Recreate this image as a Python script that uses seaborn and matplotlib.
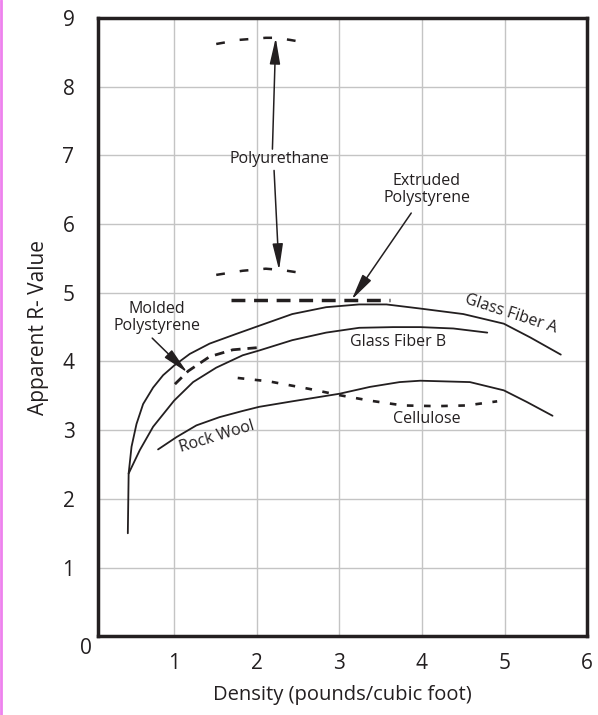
import pandas as pd
import numpy as np
import matplotlib.pyplot as plt
import seaborn as sns
from matplotlib.lines import Line2D

# values
fiber_a_x = [0.44, 0.45, 0.485, 0.545, 0.625, 0.746, 0.867, 1.0, 1.19, 1.43, 1.75, 2.03,
             2.43, 2.84, 3.24, 3.57, 3.98, 4.50, 4.99, 5.31, 5.68]
fiber_a_y = [1.50, 2.37, 2.76, 3.09, 3.38, 3.62, 3.80, 3.94, 4.11, 4.26, 4.40, 4.52,
             4.69, 4.79, 4.83, 4.83, 4.77, 4.69, 4.55, 4.35, 4.10]

fiber_b_x = [0.45, 0.585, 0.746, 1.0, 1.23, 1.51, 1.83, 2.03, 2.43, 2.84, 3.24, 3.65, 3.98, 4.38, 4.79]
fiber_b_y = [2.37, 2.71, 3.05, 3.43, 3.70, 3.91, 4.09, 4.16, 4.31, 4.42, 4.49, 4.50, 4.50, 4.48, 4.42]

rock_x = [0.806, 1.03, 1.27, 1.55, 1.83, 2.03, 2.43, 3.0, 3.37, 3.73, 3.98, 4.58, 4.99, 5.27, 5.58]
rock_y = [2.72, 2.90, 3.07, 3.19, 3.28, 3.34, 3.42, 3.53, 3.63, 3.70, 3.72, 3.70, 3.58, 3.41, 3.21]

cell_x = [1.77, 2.15, 2.64, 3.0, 3.37, 3.77, 4.18, 4.54, 4.91]
cell_y = [3.76, 3.71, 3.60, 3.51, 3.43, 3.36, 3.35, 3.36, 3.42]

molded_x = [1.01, 1.17, 1.43, 1.71, 2.0]
molded_y = [3.67, 3.86, 4.07, 4.17, 4.20]

extruded_x = [1.69, 3.61]
extruded_y = [4.90, 4.90]

pu_high_x = [1.51, 1.79, 2.11, 2.23, 2.40, 2.64]
pu_high_y = [8.62, 8.68, 8.71, 8.71, 8.68, 8.63]
pu_low_x = [1.51, 1.83, 2.11, 2.31, 2.64]
pu_low_y = [5.26, 5.32, 5.35, 5.33, 5.27]

y_ticks = [1, 2, 3, 4, 5, 6, 7, 8, 9]
x_ticks = [1, 2, 3, 4, 5, 6]

sns.set_style("whitegrid", {"grid.color": "#c4c4c4", "axes.edgecolor": "#231f20"})
plt.rcParams['font.family'] = ['Open Sans', 'DejaVu Sans']

fig = plt.figure(figsize=(5.98, 7.15), dpi=100)
ax = fig.add_axes([0.164, 0.110, 0.818, 0.865])

ink = "#231f20"
solid = dict(color=ink, lw=1.3)

def draw(xs, ys, **kw):
    df = pd.DataFrame({"x": xs, "y": ys})
    sns.lineplot(data=df, x="x", y="y", sort=False, ax=ax, **kw)

draw(fiber_a_x, fiber_a_y, **solid)
draw(fiber_b_x, fiber_b_y, **solid)
draw(rock_x, rock_y, **solid)
draw(cell_x, cell_y, color=ink, lw=1.9, linestyle=(0, (2.5, 4)))
draw(molded_x, molded_y, color=ink, lw=2.0, linestyle=(0, (3.5, 2.5)))
draw(extruded_x, extruded_y, color=ink, lw=2.5, linestyle=(0, (4, 2.5)))
draw(pu_high_x, pu_high_y, color=ink, lw=1.8, linestyle=(0, (3.5, 6)))
draw(pu_low_x, pu_low_y, color=ink, lw=1.8, linestyle=(0, (3.5, 6)))

ax.set_xlim(0.08, 6.0)
ax.set_ylim(0, 9)
ax.set_xticks(x_ticks)
ax.set_yticks(y_ticks)
ax.tick_params(length=0, labelsize=15, labelcolor=ink)
ax.tick_params(axis='x', pad=12)
ax.tick_params(axis='y', pad=17)
ax.text(-0.07, -0.17, "0", fontsize=15, color=ink, ha='center', va='center', clip_on=False)
for s in ax.spines.values():
    s.set_linewidth(2.5)
    s.set_color(ink)
ax.grid(True, lw=1.0)

ax.set_xlabel("Density (pounds/cubic foot)", fontsize=14.5, color=ink, labelpad=8)
ax.set_ylabel("Apparent R- Value", fontsize=15, color=ink, labelpad=10)

arrow = dict(arrowstyle='-|>,head_length=1.0,head_width=0.2', color=ink, lw=1.1,
             mutation_scale=16, shrinkA=0, shrinkB=0)
lab = dict(fontsize=11.5, color=ink, ha='center', va='center')

ax.text(2.27, 6.95, "Polyurethane", **lab)
ax.annotate("", xy=(2.23, 8.71), xytext=(2.19, 7.09), arrowprops=arrow)
ax.annotate("", xy=(2.27, 5.33), xytext=(2.21, 6.78), arrowprops=arrow)

ax.text(4.06, 6.50, "Extruded\nPolystyrene", linespacing=1.05, **lab)
ax.annotate("", xy=(3.15, 4.90), xytext=(3.87, 6.16), arrowprops=arrow)

ax.text(0.79, 4.64, "Molded\nPolystyrene", linespacing=1.05, **lab)
ax.annotate("", xy=(1.16, 3.84), xytext=(0.735, 4.34), arrowprops=arrow)

ax.text(5.07, 4.69, "Glass Fiber A", rotation=-18, rotation_mode='anchor', **lab)
ax.text(3.71, 4.29, "Glass Fiber B", **lab)
ax.text(4.06, 3.16, "Cellulose", **lab)
ax.text(1.52, 2.91, "Rock Wool", rotation=17, rotation_mode='anchor', **lab)

fig.add_artist(Line2D([0.002, 0.002], [0, 1], color="#ee82ee", lw=2, transform=fig.transFigure))

fig.savefig("out.png", dpi=100)
